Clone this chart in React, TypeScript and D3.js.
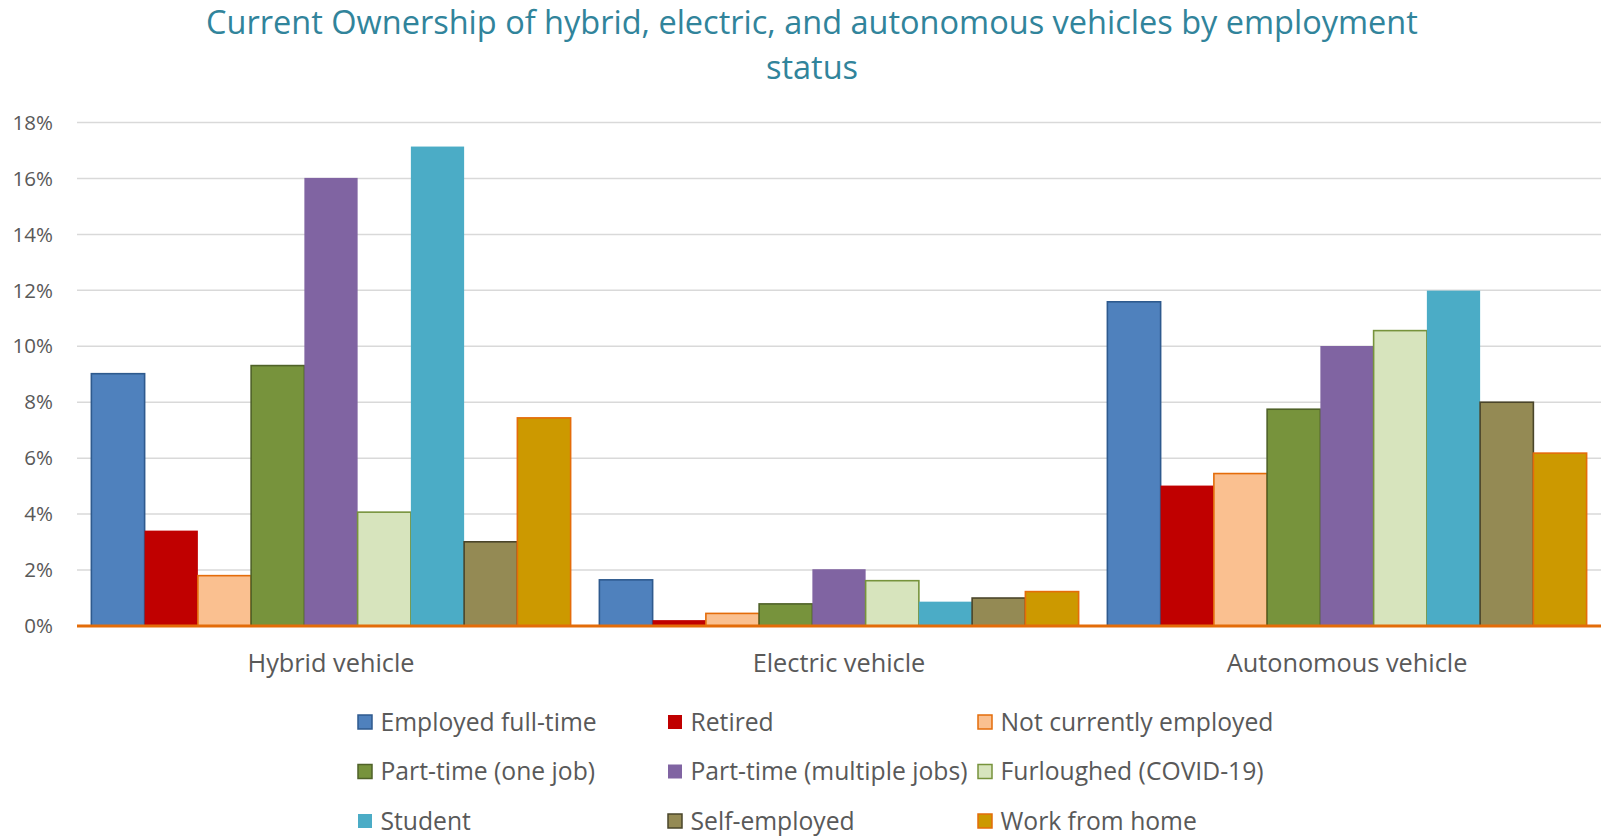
import React from "react";
import * as d3 from "d3";

const categories = ["Hybrid vehicle", "Electric vehicle", "Autonomous vehicle"];
const seriesNames = [
  "Employed full-time",
  "Retired",
  "Not currently employed",
  "Part-time (one job)",
  "Part-time (multiple jobs)",
  "Furloughed (COVID-19)",
  "Student",
  "Self-employed",
  "Work from home",
];
// values per series, in order of categories (fractions)
const employedFullTime = [0.0902, 0.0165, 0.1159];
const retired = [0.0341, 0.0021, 0.0502];
const notCurrentlyEmployed = [0.018, 0.0045, 0.0545];
const partTimeOneJob = [0.0931, 0.0079, 0.0775];
const partTimeMultipleJobs = [0.1602, 0.0203, 0.1001];
const furloughed = [0.0407, 0.0162, 0.1056];
const student = [0.1714, 0.0087, 0.1199];
const selfEmployed = [0.0301, 0.01, 0.08];
const workFromHome = [0.0744, 0.0123, 0.0618];
const yTicks = [0, 0.02, 0.04, 0.06, 0.08, 0.1, 0.12, 0.14, 0.16, 0.18];

const seriesValues = [
  employedFullTime,
  retired,
  notCurrentlyEmployed,
  partTimeOneJob,
  partTimeMultipleJobs,
  furloughed,
  student,
  selfEmployed,
  workFromHome,
];

const fills = ["#4F81BD", "#C00000", "#FAC090", "#77933C", "#8064A2", "#D7E4BD", "#4BACC6", "#948A54", "#CC9900"];
const strokes = ["#2E5A8E", "none", "#E46C0A", "#4F6228", "none", "#77933C", "none", "#4A452A", "#E46C0A"];

export default function App() {
  const W = 1606;
  const H = 838;
  const left = 77;
  const right = 1601;
  const y0 = 626;
  const yTop = 122.5;

  const x0 = d3.scaleBand<string>().domain(categories).range([left, right]).padding(0);
  const x1 = d3
    .scaleBand<string>()
    .domain(seriesNames)
    .range([0, x0.bandwidth()])
    .paddingInner(0)
    .paddingOuter(0.27);
  const y = d3.scaleLinear().domain([0, 0.18]).range([y0, yTop]);
  const fmt = d3.format(".0%");

  const textColor = "#595959";
  const font = "'Open Sans', sans-serif";

  return (
    <svg width={W} height={H} style={{ position: "absolute", left: 0, top: 0, background: "#fff" }}>
      <rect x={0} y={0} width={W} height={H} fill="#fff" />
      <text x={812} y={34} textAnchor="middle" fontFamily={font} fontSize={32.5} fill="#31849B">
        Current Ownership of hybrid, electric, and autonomous vehicles by employment
      </text>
      <text x={812} y={79} textAnchor="middle" fontFamily={font} fontSize={32.5} fill="#31849B">
        status
      </text>
      {yTicks.map((t) => (
        <g key={t}>
          {t > 0 && (
            <line x1={left} x2={right} y1={y(t)} y2={y(t)} stroke="#D9D9D9" strokeWidth={1.5} />
          )}
          <text
            x={53}
            y={y(t)}
            dy="0.35em"
            textAnchor="end"
            fontFamily={font}
            fontSize={20.5}
            fill={textColor}
          >
            {fmt(t)}
          </text>
        </g>
      ))}
      {categories.map((c, ci) => (
        <g key={c}>
          {seriesNames.map((s, si) => {
            const v = seriesValues[si][ci];
            const bx = (x0(c) as number) + (x1(s) as number);
            const by = y(v);
            return (
              <rect
                key={s}
                x={bx}
                y={by}
                width={x1.bandwidth()}
                height={y0 - by}
                fill={fills[si]}
                stroke={strokes[si]}
                strokeWidth={strokes[si] === "none" ? 0 : 1.6}
              />
            );
          })}
          <text
            x={(x0(c) as number) + x0.bandwidth() / 2}
            y={672}
            textAnchor="middle"
            fontFamily={font}
            fontSize={25.3}
            fill={textColor}
          >
            {c}
          </text>
        </g>
      ))}
      <line x1={left} x2={right} y1={y0} y2={y0} stroke="#E36C09" strokeWidth={3} />
      {seriesNames.map((s, i) => {
        const col = i % 3;
        const row = Math.floor(i / 3);
        const sx = 358 + col * 310;
        const cy = 722 + row * 49.5;
        return (
          <g key={s}>
            <rect
              x={sx}
              y={cy - 7}
              width={14}
              height={14}
              fill={fills[i]}
              stroke={strokes[i]}
              strokeWidth={strokes[i] === "none" ? 0 : 1.5}
            />
            <text x={sx + 22.5} y={cy} dy="0.36em" fontFamily={font} fontSize={24.7} fill={textColor}>
              {s}
            </text>
          </g>
        );
      })}
    </svg>
  );
}
